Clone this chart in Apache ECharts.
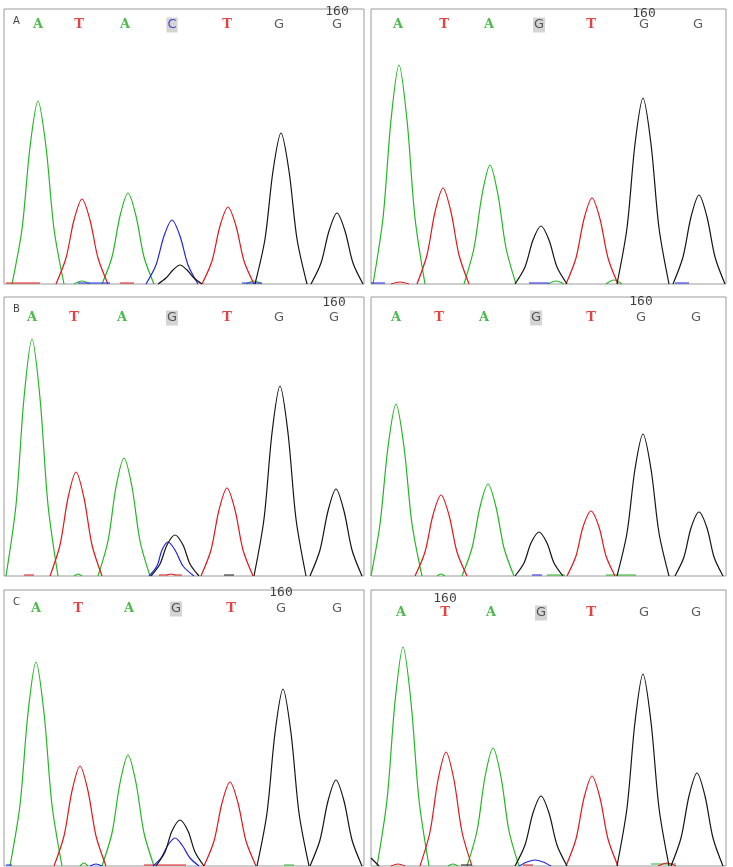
<!DOCTYPE html>
<html>
<head>
<meta charset="utf-8">
<script src="https://cdn.jsdelivr.net/npm/echarts@6/dist/echarts.min.js"></script>
<style>
  html, body { margin: 0; padding: 0; background: #fff; }
  #chart { width: 733px; height: 867px; }
</style>
</head>
<body>
<div id="chart"></div>
<script>
// six electropherogram panels: rows A/B/C, left and right
// x = scan offset inside the window, y = signal height
// every trace is a list of segments, each segment a list of [scan, signal]

// ---- row A, left ----
const leftA_green = [
  [[8,0],[18,55],[26,137],[34,183],[42,137],[50,55],[60,0]],
  [[70,0],[78,3],[86,0]],
  [[98,0],[108,27],[116,68],[124,91],[132,68],[140,27],[150,0]],
  [[242,0],[250,3],[258,0]],
]
const leftA_red = [
  [[2,1],[36,1]],
  [[52,0],[62,26],[70,64],[78,85],[86,64],[94,26],[104,0]],
  [[116,1],[130,1]],
  [[198,0],[208,23],[216,58],[224,77],[232,58],[240,23],[250,0]],
]
const leftA_blue = [
  [[74,1],[106,1]],
  [[142,0],[152,19],[160,48],[168,64],[176,48],[184,19],[194,0]],
  [[238,1],[258,1]],
]
const leftA_black = [
  [[154,0],[162,6],[169,14],[176,19],[183,14],[190,6],[198,0]],
  [[251,0],[261,45],[269,113],[277,151],[285,113],[293,45],[303,0]],
  [[307,0],[317,21],[325,53],[333,71],[341,53],[349,21],[359,0]],
]

// ---- row A, right ----
const rightA_green = [
  [[2,0],[12,66],[20,164],[28,219],[36,164],[44,66],[54,0]],
  [[93,0],[103,36],[111,89],[119,119],[127,89],[135,36],[145,0]],
  [[177,0],[185,3],[193,0]],
  [[235,0],[243,4],[251,0]],
]
const rightA_red = [
  [[20,0],[29,2],[38,0]],
  [[46,0],[56,29],[64,72],[72,96],[80,72],[88,29],[98,0]],
  [[195,0],[205,26],[213,65],[221,86],[229,65],[237,26],[247,0]],
]
const rightA_blue = [
  [[0,1],[14,1]],
  [[158,1],[178,1]],
  [[304,1],[318,1]],
]
const rightA_black = [
  [[144,0],[154,17],[162,44],[170,58],[178,44],[186,17],[196,0]],
  [[246,0],[256,56],[264,140],[272,186],[280,140],[288,56],[298,0]],
  [[302,0],[312,27],[320,67],[328,89],[336,67],[344,27],[354,0]],
]

// ---- row B, left ----
const leftB_green = [
  [[2,0],[12,71],[20,178],[28,237],[36,178],[44,71],[54,0]],
  [[70,0],[74,2],[78,0]],
  [[94,0],[104,35],[112,89],[120,118],[128,89],[136,35],[146,0]],
]
const leftB_red = [
  [[20,1],[30,1]],
  [[46,0],[56,31],[64,78],[72,104],[80,78],[88,31],[98,0]],
  [[155,1],[162,1],[167,2],[172,1],[178,1]],
  [[197,0],[207,26],[215,66],[223,88],[231,66],[239,26],[249,0]],
]
const leftB_blue = [
  [[145,0],[153,10],[158,26],[164,34],[171,26],[179,10],[190,0]],
]
const leftB_black = [
  [[147,0],[156,12],[163,31],[171,41],[179,31],[186,12],[195,0]],
  [[220,1],[230,1]],
  [[250,0],[260,57],[268,143],[276,190],[284,143],[292,57],[302,0]],
  [[306,0],[316,26],[324,65],[332,87],[340,65],[348,26],[358,0]],
]

// ---- row B, right ----
const rightB_green = [
  [[0,0],[9,52],[17,129],[25,172],[33,129],[41,52],[51,0]],
  [[66,0],[70,2],[74,0]],
  [[91,0],[101,28],[109,69],[117,92],[125,69],[133,28],[143,0]],
  [[176,1],[194,1]],
  [[235,1],[265,1]],
]
const rightB_red = [
  [[44,0],[54,24],[62,61],[70,81],[78,61],[86,24],[96,0]],
  [[196,0],[205,20],[212,49],[220,65],[228,49],[235,20],[244,0]],
]
const rightB_blue = [
  [[161,1],[171,1]],
]
const rightB_black = [
  [[144,0],[153,13],[160,33],[168,44],[176,33],[183,13],[192,0]],
  [[246,0],[256,43],[264,107],[272,142],[280,107],[288,43],[298,0]],
  [[304,0],[313,19],[320,48],[328,64],[336,48],[343,19],[352,0]],
]

// ---- row C, left ----
const leftC_green = [
  [[6,0],[16,61],[24,153],[32,204],[40,153],[48,61],[58,0]],
  [[76,0],[80,3],[84,0]],
  [[98,0],[108,33],[116,83],[124,111],[132,83],[140,33],[150,0]],
  [[280,1],[290,1]],
]
const leftC_red = [
  [[50,0],[60,30],[68,75],[76,100],[84,75],[92,30],[102,0]],
  [[140,1],[182,1]],
  [[200,0],[210,25],[218,63],[226,84],[234,63],[242,25],[252,0]],
]
const leftC_blue = [
  [[2,1],[8,1]],
  [[86,0],[92,2],[98,0]],
  [[149,0],[157,8],[164,21],[171,28],[178,21],[186,8],[195,0]],
]
const leftC_black = [
  [[152,0],[161,14],[168,35],[176,46],[184,35],[191,14],[200,0]],
  [[253,0],[263,53],[271,133],[279,177],[287,133],[295,53],[305,0]],
  [[306,0],[316,26],[324,65],[332,86],[340,65],[348,26],[358,0]],
]

// ---- row C, right ----
const rightC_green = [
  [[6,0],[16,66],[24,164],[32,219],[40,164],[48,66],[58,0]],
  [[77,0],[82,2],[87,0]],
  [[96,0],[106,35],[114,89],[122,118],[130,89],[138,35],[148,0]],
  [[280,2],[305,2]],
]
const rightC_red = [
  [[20,0],[27,2],[34,0]],
  [[49,0],[59,34],[67,86],[75,114],[83,86],[91,34],[101,0]],
  [[152,1],[162,1]],
  [[195,0],[205,27],[213,68],[221,90],[229,68],[237,27],[247,0]],
  [[287,0],[296,3],[305,0]],
]
const rightC_blue = [
  [[148,0],[156,4],[164,6],[172,4],[180,0]],
]
const rightC_black = [
  [[0,8],[8,0]],
  [[90,1],[100,1]],
  [[144,0],[154,21],[162,53],[170,70],[178,53],[186,21],[196,0]],
  [[246,0],[256,58],[264,144],[272,192],[280,144],[288,58],[298,0]],
  [[300,0],[310,28],[318,70],[326,93],[334,70],[342,28],[352,0]],
]

// base calls (scan position of each called base)
const basesLeftA = ['A','T','A','C','T','G','G']
const basesOther = ['A','T','A','G','T','G','G']
const callsLeftA  = [34, 75, 121, 168, 223, 275, 333]
const callsRightA = [27, 73, 118, 168, 220, 273, 327]
const callsLeftB  = [28, 70, 118, 168, 223, 275, 330]
const callsRightB = [25, 68, 113, 165, 220, 270, 325]
const callsLeftC  = [32, 74, 125, 172, 227, 277, 333]
const callsRightC = [30, 74, 120, 170, 220, 273, 325]
// index of base carrying the "160" position mark
const mark160 = [6, 5, 6, 5, 5, 1]
const highlighted = 3

// signal ranges per row and the height where the calls sit
const rowMax   = [275, 275, 279, 279, 276, 276]
const callRow  = [259, 259, 258, 258, 257, 253]
const markRow  = [272, 270, 273, 274, 273, 267]
const scanMax  = [360, 355, 360, 355, 360, 355]
const rowNames = ['A', '', 'B', '', 'C', '']

const panels = [
  { traces: [leftA_green, leftA_red, leftA_blue, leftA_black], calls: callsLeftA, bases: basesLeftA },
  { traces: [rightA_green, rightA_red, rightA_blue, rightA_black], calls: callsRightA, bases: basesOther },
  { traces: [leftB_green, leftB_red, leftB_blue, leftB_black], calls: callsLeftB, bases: basesOther },
  { traces: [rightB_green, rightB_red, rightB_blue, rightB_black], calls: callsRightB, bases: basesOther },
  { traces: [leftC_green, leftC_red, leftC_blue, leftC_black], calls: callsLeftC, bases: basesOther },
  { traces: [rightC_green, rightC_red, rightC_blue, rightC_black], calls: callsRightC, bases: basesOther },
]

const traceColors = ['#22b822', '#e2171b', '#1f24e8', '#151515']
const baseColor = { A: '#1eaa1e', T: '#dc1414', C: '#2020d0', G: '#333333' }
const baseFont = { A: 'DejaVu Serif', T: 'DejaVu Serif', C: 'DejaVu Sans', G: 'DejaVu Sans' }

const boxes = [
  { left: 4, top: 9, width: 360, height: 275 },
  { left: 371, top: 9, width: 355, height: 275 },
  { left: 4, top: 297, width: 360, height: 279 },
  { left: 371, top: 297, width: 355, height: 279 },
  { left: 4, top: 590, width: 360, height: 276 },
  { left: 371, top: 590, width: 355, height: 276 },
]

const chart = echarts.init(document.getElementById('chart'), null, { renderer: 'canvas' })

const grid = boxes.map((b) => ({
  ...b,
  show: true,
  backgroundColor: '#fff',
  borderColor: '#9a9a9a',
  borderWidth: 1,
  containLabel: false,
}))

const xAxis = boxes.map((b, i) => ({
  type: 'value', gridIndex: i, min: 0, max: scanMax[i], show: false,
}))
const yAxis = boxes.map((b, i) => ({
  type: 'value', gridIndex: i, min: 0, max: rowMax[i], show: false,
}))

const series = []
panels.forEach((p, i) => {
  p.traces.forEach((segments, c) => {
    segments.forEach((seg) => {
      series.push({
        type: 'line',
        xAxisIndex: i,
        yAxisIndex: i,
        data: seg,
        smooth: 0.3,
        symbol: 'none',
        silent: true,
        lineStyle: { color: traceColors[c], width: 1.2 },
        z: c === 3 ? 3 : 2,
      })
    })
  })

  series.push({
    type: 'scatter',
    xAxisIndex: i,
    yAxisIndex: i,
    symbolSize: 1,
    itemStyle: { color: 'transparent' },
    silent: true,
    z: 5,
    data: p.calls.map((x, k) => {
      const b = p.bases[k]
      return {
        value: [x, callRow[i]],
        label: {
          show: true,
          position: 'inside',
          formatter: b,
          color: baseColor[b],
          fontSize: 13,
          fontFamily: baseFont[b],
          fontWeight: b === 'A' || b === 'T' ? 'bold' : 'normal',
          backgroundColor: k === highlighted ? '#c9c9c9' : 'transparent',
          padding: [1, 1],
        },
      }
    }),
  })

  series.push({
    type: 'scatter',
    xAxisIndex: i,
    yAxisIndex: i,
    symbolSize: 1,
    itemStyle: { color: 'transparent' },
    silent: true,
    z: 5,
    data: [{
      value: [p.calls[mark160[i]], markRow[i]],
      label: {
        show: true, position: 'inside', formatter: '160',
        color: '#111', fontSize: 13, fontFamily: 'DejaVu Sans Mono',
      },
    }],
  })
})

const title = boxes
  .map((b, i) => ({
    text: rowNames[i],
    left: b.left + 4,
    top: b.top + 2,
    textStyle: { fontSize: 10, fontWeight: 'normal', color: '#444', fontFamily: 'DejaVu Sans' },
  }))
  .filter((t) => t.text)

chart.setOption({
  animation: false,
  backgroundColor: '#fff',
  title,
  grid,
  xAxis,
  yAxis,
  series,
})
</script>
</body>
</html>
